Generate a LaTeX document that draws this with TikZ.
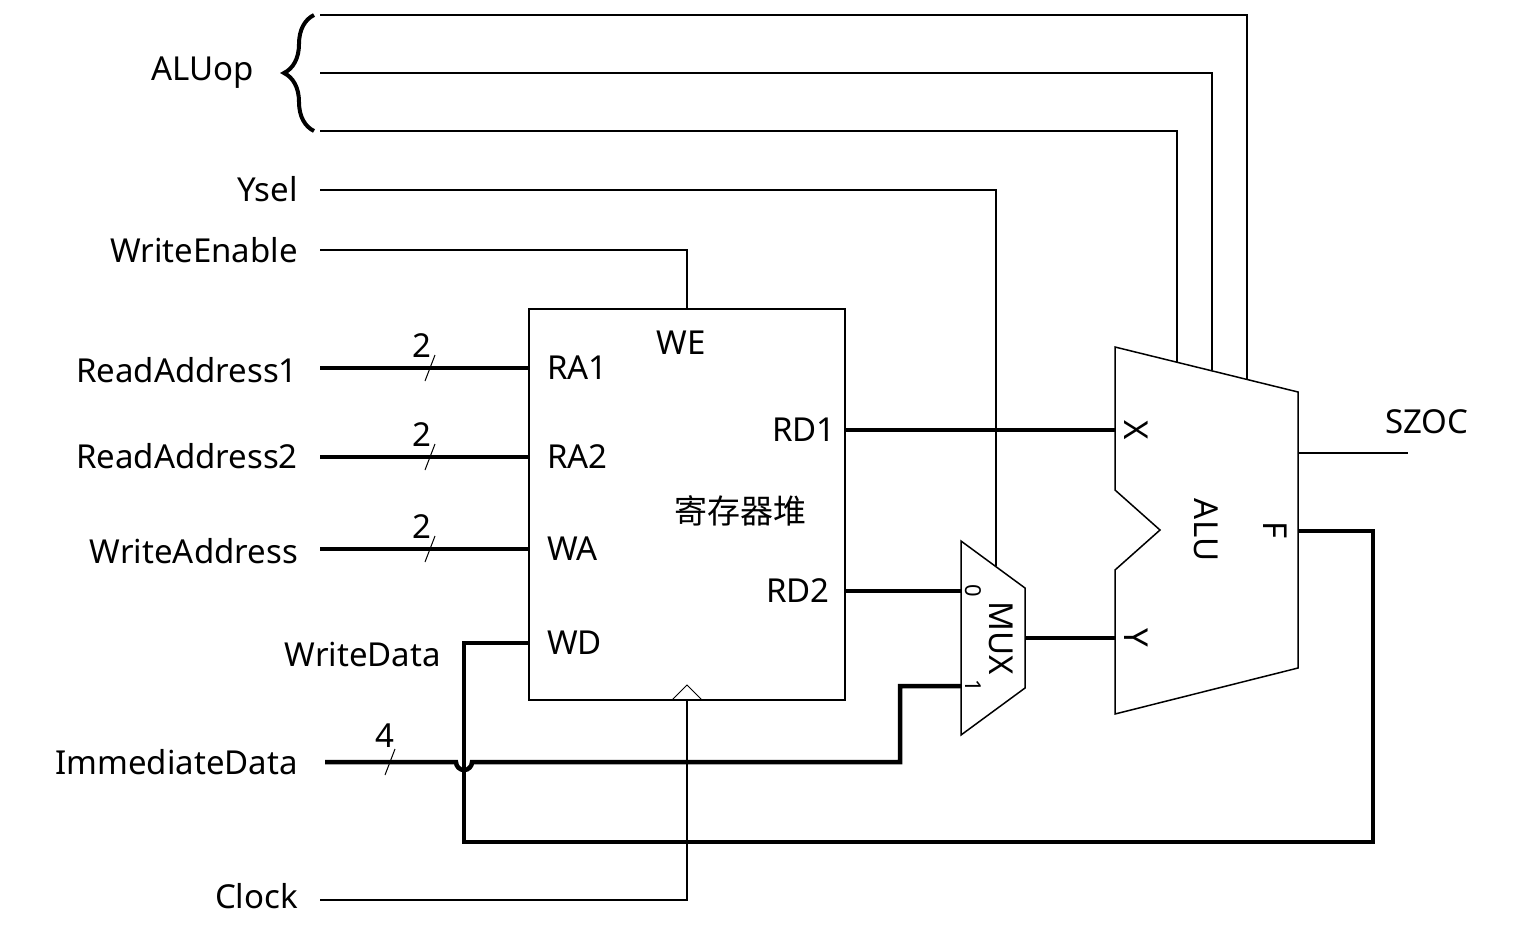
\documentclass[tikz,border=0pt]{standalone}
\usepackage{fontspec}
\setmainfont{Noto Sans}
\newfontfamily\cjk{Noto Sans CJK SC}
\usetikzlibrary{decorations.pathreplacing}
\begin{document}
\begin{tikzpicture}[x=1pt,y=-1pt,
  thin/.style={line width=1.5pt},
  bus/.style={line width=4.5pt},
  lab/.style={font=\fontsize{33}{33}\selectfont, inner sep=0pt},
  small/.style={font=\fontsize{22}{22}\selectfont, inner sep=0pt}]
\useasboundingbox (0,0) rectangle (1525,938);
% register file
\draw[thin] (529,309) rectangle (845,700);
\node[lab] (we) at (681,343) {WE};
\node[lab,anchor=west] (ra1) at (547,368) {RA1};
\node[lab,anchor=west] (ra2) at (547,457) {RA2};
\node[lab,anchor=west] (wa) at (547,549) {WA};
\node[lab,anchor=west] (wd) at (547,643) {WD};
\node[lab,anchor=east] (rd1) at (836,430) {RD1};
\node[lab,anchor=east] (rd2) at (830,591) {RD2};
\node[lab,font=\cjk\fontsize{33}{33}\selectfont] (rf) at (740,511) {寄存器堆};
\draw[line width=1pt] (672,700) -- (687,685) -- (702,700);
% inputs
\node[lab,anchor=east] (lra1) at (298,370) {ReadAddress1};
\node[lab,anchor=east] (lra2) at (298,456) {ReadAddress2};
\node[lab,anchor=east] (lwa) at (298,551) {WriteAddress};
\node[lab,anchor=east] (lwd) at (441,654) {WriteData};
\node[lab,anchor=east] (limm) at (298,762) {ImmediateData};
\node[lab,anchor=east] (lclk) at (298,896) {Clock};
\node[lab,anchor=east] (lwe) at (298,250) {WriteEnable};
\node[lab,anchor=east] (lysel) at (298,189) {Ysel};
\node[lab,anchor=east] (lalu) at (254,73) {ALUop};
\node[lab,anchor=west] (lszoc) at (1385,422) {SZOC};
\foreach \y/\n in {368/2,457/2,549/2}{
  \draw[bus] (320,\y) -- (529,\y);
  \draw[line width=1pt] (425,\y+13) -- (435,\y-13);
  \node[lab] at (422,\y-22) {\n};
}
\draw[thin] (320,250) -- (687,250) -- (687,309);
\draw[thin] (320,900) -- (687,900) -- (687,700);
% immediate
\draw[bus] (325,762) -- (456,762) arc[start angle=180,end angle=0,radius=8] -- (900,762) -- (900,686) -- (961,686);
\draw[line width=1pt] (385,775) -- (395,749);
\node[lab] at (385,736) {4};
% MUX
\draw[thin] (961,541) -- (1025,588) -- (1025,688) -- (961,735) -- cycle;
\node[small,rotate=-90] at (973,591) {0};
\node[small,rotate=-90] at (973,686) {1};
\node[lab,rotate=-90] (mux) at (1001,638) {MUX};
\draw[bus] (845,591) -- (961,591);
\draw[thin] (320,190) -- (996,190) -- (996,566);
\draw[bus] (1025,638) -- (1115,638);
% ALU
\draw[thin] (1115,347) -- (1298,392) -- (1298,668) -- (1115,714) -- (1115,570) -- (1160,530) -- (1115,490) -- cycle;
\node[lab,rotate=-90] at (1136,430) {X};
\node[lab,rotate=-90] at (1136,638) {Y};
\node[lab,rotate=-90] at (1206,530) {ALU};
\node[lab,rotate=-90] at (1275,530) {F};
\draw[bus] (845,430) -- (1115,430);
\draw[thin] (1298,453) -- (1408,453);
\draw[thin] (320,15) -- (1247,15) -- (1247,379);
\draw[thin] (320,73) -- (1212,73) -- (1212,370);
\draw[thin] (320,131) -- (1177,131) -- (1177,362);
\draw[line width=4pt,decorate,decoration={brace,amplitude=30pt}] (314,131) -- (314,15);
% feedback
\draw[bus] (1298,531) -- (1373,531) -- (1373,842) -- (464,842) -- (464,643) -- (529,643);
\end{tikzpicture}
\end{document}
